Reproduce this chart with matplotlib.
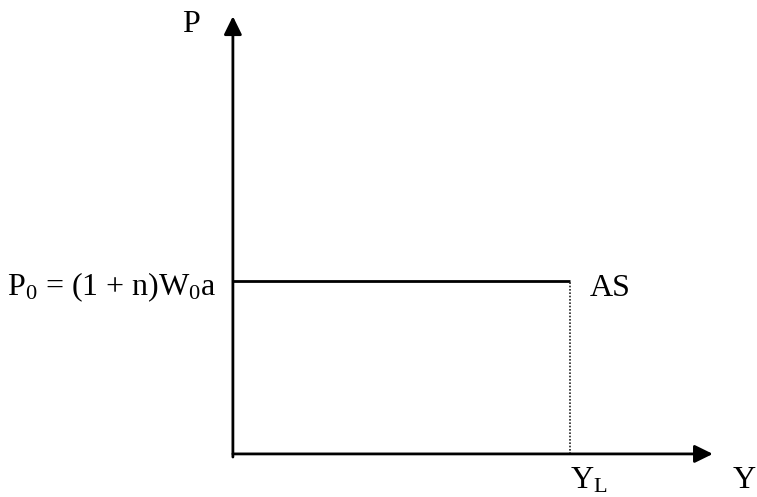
import matplotlib.pyplot as plt

plt.rcParams['font.family'] = ['Liberation Serif', 'DejaVu Serif']
plt.rcParams['mathtext.fontset'] = 'custom'
plt.rcParams['mathtext.rm'] = 'Liberation Serif'
plt.rcParams['mathtext.it'] = 'Liberation Serif'

# diagram values (origin at 0, 0)
P0 = 1.0           # price level of the flat AS curve
Y_L = 1.0          # full-employment output
y_axis_top = 2.53
x_axis_end = 1.424

axis_labels = ['P', 'Y']
curve_label = 'AS'
p0_label = r'P$_0$ = (1 + n)W$_0$a'
yl_label = r'Y$_\mathrm{L}$'

fig = plt.figure(figsize=(7.57, 4.97), dpi=100)
ax = fig.add_axes([0, 0, 1, 1])
ax.set_xlim(-0.691, 1.555)
ax.set_ylim(-0.249, 2.624)
ax.axis('off')

arrow = dict(arrowstyle='-|>,head_length=0.55,head_width=0.27',
             mutation_scale=20, lw=2, color='black', shrinkA=0, shrinkB=0)

# axes with arrows
ax.annotate('', xy=(0, y_axis_top), xytext=(0, -0.018), arrowprops=arrow)
ax.annotate('', xy=(x_axis_end, 0), xytext=(0, 0), arrowprops=arrow)

# AS curve and dotted drop to Y_L
ax.plot([0, Y_L], [P0, P0], color='black', lw=2, solid_capstyle='butt')
ax.plot([Y_L, Y_L], [0, P0], color='#222222', lw=1.2, ls=(0, (1.0, 1.0)))

fs = 23
ax.text(-0.151, 2.44, axis_labels[0], fontsize=fs, ha='left', va='baseline')
ax.text(1.484, -0.197, axis_labels[1], fontsize=fs, ha='left', va='baseline')
ax.text(-0.047, 0.915, p0_label, fontsize=fs, ha='right', va='baseline')
ax.text(1.059, 0.915, curve_label, fontsize=fs, ha='left', va='baseline')
ax.text(Y_L, -0.197, yl_label, fontsize=fs, ha='left', va='baseline')

plt.savefig('out.png', dpi=100)
